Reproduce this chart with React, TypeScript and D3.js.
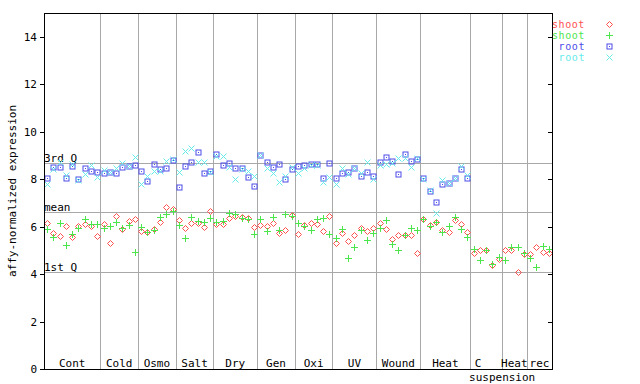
import React from "react";
import * as d3 from "d3";

const groupNames = ["Cont", "Cold", "Osmo", "Salt", "Dry", "Gen", "Oxi", "UV", "Wound", "Heat", "C|suspension", "Heat", "rec"];
const groupSizes = [9, 6, 6, 6, 7, 6, 6, 7, 7, 8, 5, 4, 4];

const shootRed = [
  6.17, 5.74, 5.60, 6.03, 5.55, 6.03, 6.11, 6.03, 5.60,
  6.11, 5.30, 6.45, 5.89, 6.25, 6.31,
  5.83, 5.79, 5.89, 6.21, 6.84, 6.73,
  6.26, 5.93, 6.14, 6.17, 6.00, 6.66,
  6.11, 6.11, 6.35, 6.45, 6.40, 6.35, 5.97,
  6.07, 6.03, 6.17, 5.72, 5.85, 6.49,
  5.69, 6.07, 6.17, 6.11, 5.82, 6.45,
  5.33, 5.72, 5.39, 5.65, 5.93, 5.82, 5.93,
  6.17, 5.89, 5.48, 5.65, 5.65, 5.65, 4.87,
  6.31, 6.07, 6.21, 5.86, 5.76, 6.28, 6.11, 5.76,
  4.87, 5.01, 5.01, 4.38, 4.64,
  5.01, 5.01, 4.07, 4.85,
  4.85, 5.15, 4.92, 4.87,
];

const shootGreen = [
  5.89, 5.55, 6.17, 5.23, 5.69, 5.93, 6.31, 6.11, 6.11,
  5.93, 6.03, 6.21, 5.95, 6.07, 4.94,
  5.97, 5.79, 5.86, 6.40, 6.53, 6.65,
  6.07, 5.51, 6.39, 6.24, 6.19, 6.38,
  6.21, 6.24, 6.59, 6.52, 6.35, 6.33, 5.68,
  6.31, 5.82, 6.39, 5.86, 6.53, 6.43,
  6.14, 6.04, 5.86, 6.30, 6.35, 5.69,
  5.52, 5.89, 4.66, 5.13, 5.86, 5.44, 5.75,
  5.93, 6.28, 5.25, 5.01, 5.65, 5.93, 5.85,
  6.30, 6.03, 6.18, 5.76, 6.03, 6.39, 5.89, 5.55,
  5.06, 4.59, 5.01, 4.42, 4.71,
  4.59, 5.13, 5.13, 4.87,
  4.66, 4.29, 5.18, 5.04,
];

const rootBlue = [
  8.04, 8.50, 8.53, 8.04, 8.57, 8.01, 8.48, 8.34, 8.29,
  8.25, 8.31, 8.25, 8.53, 8.55, 8.60,
  8.34, 7.94, 8.62, 8.41, 8.48, 8.81,
  7.66, 8.55, 8.71, 9.13, 8.25, 8.36,
  9.05, 8.58, 8.67, 8.46, 8.46, 8.08, 7.71,
  9.02, 8.71, 8.50, 8.63, 7.99, 8.42,
  8.55, 8.58, 8.62, 8.62, 8.04, 8.67,
  8.06, 8.25, 8.29, 8.46, 8.15, 8.29, 8.13,
  8.74, 8.92, 8.78, 8.22, 9.05, 8.77, 8.84,
  8.04, 7.51, 7.02, 7.78, 7.82, 8.06, 8.43, 8.06,
];

const rootCyan = [
  7.80, 8.41, 8.74, 8.18, 8.62, 7.96, 8.20, 8.58, 8.10,
  8.39, 8.29, 8.48, 8.67, 8.57, 8.95,
  7.78, 8.15, 8.34, 8.34, 8.75, 8.84,
  8.31, 9.19, 9.30, 8.74, 8.74, 8.29,
  8.99, 8.99, 8.53, 8.01, 8.42, 8.36, 8.13,
  9.02, 8.46, 8.25, 7.89, 8.13, 8.50,
  8.25, 8.45, 8.60, 8.58, 7.87, 8.08,
  7.79, 8.46, 8.20, 8.46, 8.25, 8.71, 7.99,
  8.60, 8.64, 8.67, 8.88, 8.88, 8.50, 8.88,
  7.99, 7.55, 6.59, 7.96, 7.82, 8.06, 8.55, 8.18,
];

const refNames = ["3rd Q", "mean", "1st Q"];
const refValues = [8.67, 6.63, 4.1];
const yTicks = [0, 2, 4, 6, 8, 10, 12, 14];
const legendLabels = ["shoot", "shoot", "root", "root"];

const RED = "#ff5050";
const GREEN = "#4ce64c";
const BLUE = "#4c4ce8";
const CYAN = "#66eaea";
const GRID = "#a8a8a8";
const FONT = "'DejaVu Sans Mono', monospace";

const W = 640, H = 384;
const L = 44, R = 552, T = 13, B = 369;

function Diamond({ x, y, c }: { x: number; y: number; c: string }) {
  return <path d={`M${x},${y - 3}L${x + 3},${y}L${x},${y + 3}L${x - 3},${y}Z`} fill="none" stroke={c} strokeWidth={1} />;
}
function Plus({ x, y, c }: { x: number; y: number; c: string }) {
  return <path d={`M${x - 3.5},${y}H${x + 3.5}M${x},${y - 3.5}V${y + 3.5}`} fill="none" stroke={c} strokeWidth={1} />;
}
function Square({ x, y, c }: { x: number; y: number; c: string }) {
  return (
    <g>
      <rect x={x - 2.5} y={y - 2.5} width={5} height={5} fill="none" stroke={c} strokeWidth={1} />
      <rect x={x - 0.5} y={y - 0.5} width={1} height={1} fill={c} />
    </g>
  );
}
function Cross({ x, y, c }: { x: number; y: number; c: string }) {
  return <path d={`M${x - 3},${y - 3}L${x + 3},${y + 3}M${x + 3},${y - 3}L${x - 3},${y + 3}`} fill="none" stroke={c} strokeWidth={1} />;
}

export default function App() {
  const n = d3.sum(groupSizes);
  const x = d3.scaleBand<number>().domain(d3.range(n)).range([L, R]).padding(0);
  const y = d3.scaleLinear().domain([0, 15]).range([B, T]);
  const cx = (i: number) => Math.round(x(i)! + x.bandwidth() / 2) + 0.5;
  const cy = (v: number) => Math.round(y(v)) + 0.5;

  const starts = d3.cumsum([0, ...groupSizes]);
  const groups = groupNames.map((name, gi) => {
    const s = starts[gi];
    const e = starts[gi + 1];
    const x0 = x(s)!;
    const x1 = e >= n ? R : x(e)!;
    return { name, x0, x1, mid: (x0 + x1) / 2 };
  });

  const series = [
    { data: shootRed, color: RED, Mark: Diamond },
    { data: shootGreen, color: GREEN, Mark: Plus },
    { data: rootBlue, color: BLUE, Mark: Square },
    { data: rootCyan, color: CYAN, Mark: Cross },
  ];

  return (
    <svg width={W} height={H} style={{ position: "absolute", left: 0, top: 0, background: "#fff" }} fontFamily={FONT} fontSize={11}>
      <rect x={0} y={0} width={W} height={H} fill="#fff" />
      {groups.slice(1).map((g, i) => (
        <line key={"d" + i} x1={Math.round(g.x0) + 0.5} x2={Math.round(g.x0) + 0.5} y1={T} y2={B} stroke={GRID} />
      ))}
      {refValues.map((v, i) => (
        <g key={"r" + i}>
          <line x1={L} x2={R} y1={cy(v)} y2={cy(v)} stroke={GRID} />
          <text x={L} y={cy(v) - 1.5} fill="#000">{refNames[i]}</text>
        </g>
      ))}
      {series.map((s, si) => (
        <g key={"s" + si}>
          {s.data.map((v, i) => (
            <s.Mark key={i} x={cx(i)} y={cy(v)} c={s.color} />
          ))}
        </g>
      ))}
      <rect x={L + 0.5} y={T + 0.5} width={R - L} height={B - T} fill="none" stroke="#000" />
      {yTicks.map((t) => (
        <g key={"t" + t}>
          <line x1={L - 4} x2={L} y1={cy(t)} y2={cy(t)} stroke="#000" />
          <line x1={R - 4} x2={R} y1={cy(t)} y2={cy(t)} stroke="#000" />
          <text x={37} y={cy(t)} dy="0.35em" textAnchor="end" fill="#000">{t}</text>
        </g>
      ))}
      {groups.map((g, i) => {
        const parts = g.name.split("|");
        if (parts.length > 1) {
          return (
            <g key={"g" + i}>
              <text x={g.mid - 8} y={B - 2} textAnchor="middle" fill="#000">{parts[0]}</text>
              <text x={g.mid + 16} y={B + 12} textAnchor="middle" fill="#000">{parts[1]}</text>
            </g>
          );
        }
        return <text key={"g" + i} x={g.mid} y={B - 2} textAnchor="middle" fill="#000">{g.name}</text>;
      })}
      <text transform={`translate(12,${(T + B) / 2}) rotate(-90)`} textAnchor="middle" dy="0.35em" fill="#000">affy-normalized expression</text>
      {series.map((s, i) => {
        const ly = 24 + i * 11;
        return (
          <g key={"l" + i}>
            <text x={585} y={ly} dy="0.35em" textAnchor="end" fill={s.color} fontSize={10} letterSpacing={0.6}>{legendLabels[i]}</text>
            <s.Mark x={609.5} y={Math.round(ly) + 0.5} c={s.color} />
          </g>
        );
      })}
    </svg>
  );
}
